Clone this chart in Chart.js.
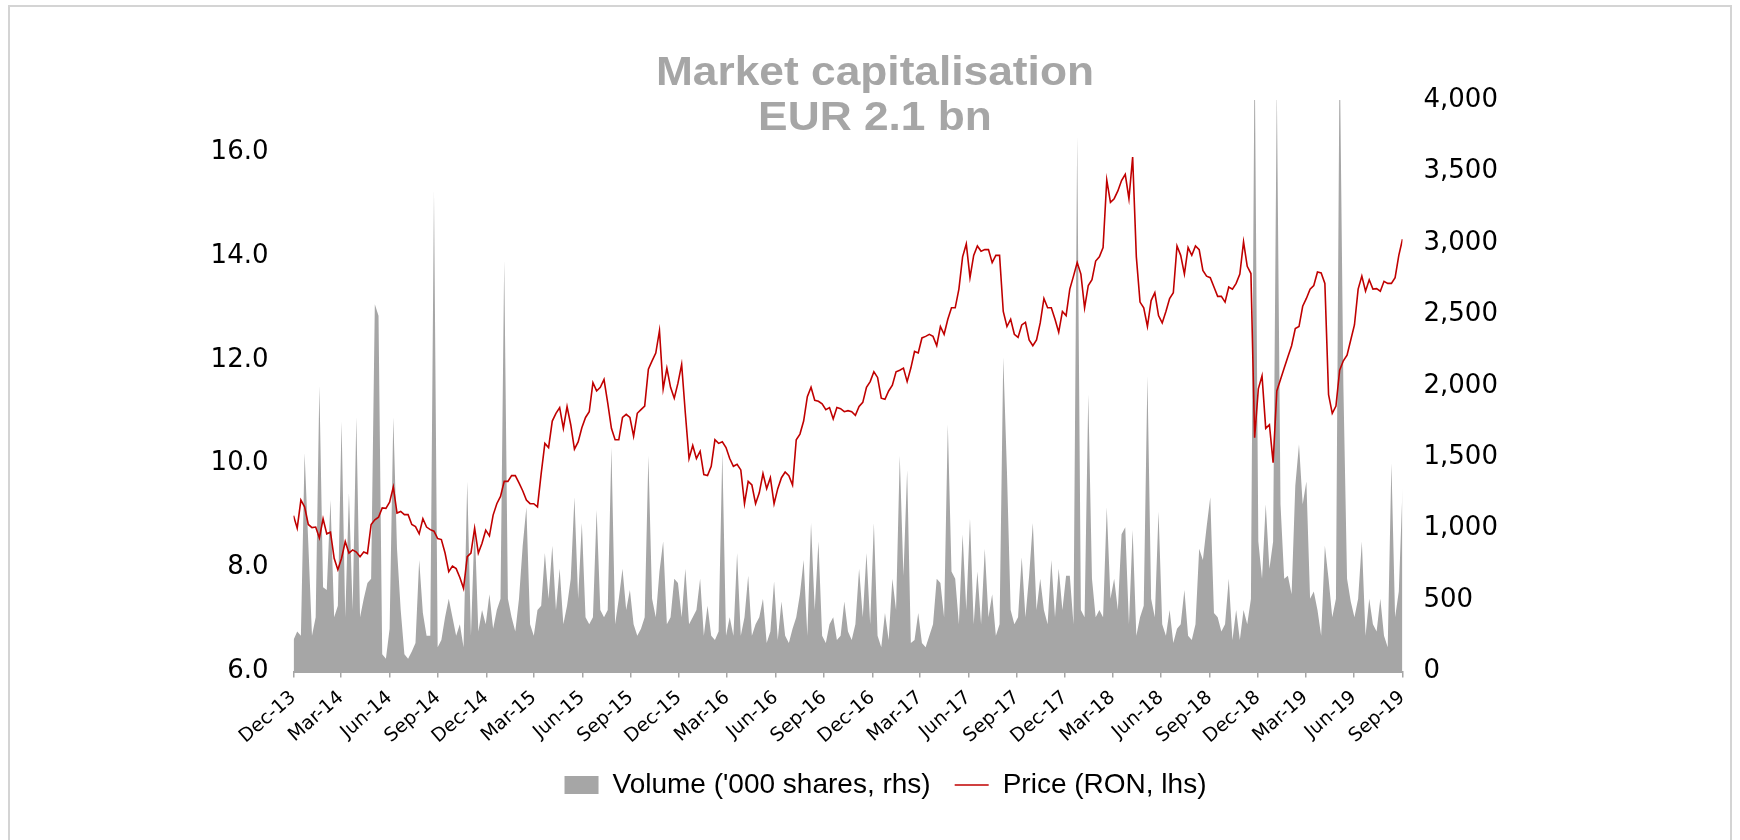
<!DOCTYPE html>
<html>
<head>
<meta charset="utf-8">
<script src="https://cdn.jsdelivr.net/npm/chart.js@4.4.1/dist/chart.umd.min.js"></script>
<style>
  html, body { margin: 0; padding: 0; background: #fff; }
  #wrap { position: relative; width: 1740px; height: 840px; overflow: hidden; }
  #frame { position: absolute; left: 8px; top: 5px; width: 1724px; height: 900px; border: 2px solid #d4d4d4; box-sizing: border-box; }
  #title { position: absolute; left: 0; top: 49px; width: 1750px; text-align: center;
           font: bold 41px "Liberation Sans", Arial, sans-serif; line-height: 45px; color: #a6a6a6;
           transform: scaleX(1.08); }
  canvas { position: absolute; left: 0; top: 0; }
</style>
</head>
<body>
<div id="wrap">
  <div id="frame"></div>
  <canvas id="mcapChart" width="1740" height="840"></canvas>
  <div id="title">Market capitalisation<br>EUR 2.1 bn</div>
</div>
<script>
// quarterly axis labels
const tickLabels = [
  "Dec-13", "Mar-14", "Jun-14", "Sep-14", "Dec-14", "Mar-15", "Jun-15", "Sep-15",
  "Dec-15", "Mar-16", "Jun-16", "Sep-16", "Dec-16", "Mar-17", "Jun-17", "Sep-17",
  "Dec-17", "Mar-18", "Jun-18", "Sep-18", "Dec-18", "Mar-19", "Jun-19", "Sep-19",
];
const priceTicks = [6, 8, 10, 12, 14, 16];
const volumeTicks = [0, 500, 1000, 1500, 2000, 2500, 3000, 3500, 4000];

// weekly readings, first week starting 1 Dec 2013
const firstDate = Date.UTC(2013, 11, 1);
const weekStep = 7;

// Price (RON, lhs)
const price = [
  9.00, 8.76, 9.30, 9.17, 8.83, 8.77, 8.78, 8.57, 8.94, 8.65,
  8.68, 8.18, 7.96, 8.18, 8.50, 8.28, 8.34, 8.30, 8.21, 8.30,
  8.27, 8.83, 8.92, 8.97, 9.15, 9.14, 9.26, 9.55, 9.05, 9.08,
  9.02, 9.02, 8.83, 8.79, 8.65, 8.94, 8.78, 8.73, 8.70, 8.56,
  8.54, 8.28, 7.92, 8.03, 7.98, 7.81, 7.60, 8.21, 8.28, 8.76,
  8.28, 8.47, 8.72, 8.61, 9.01, 9.23, 9.37, 9.66, 9.66, 9.77,
  9.77, 9.63, 9.48, 9.30, 9.23, 9.23, 9.17, 9.81, 10.39, 10.31,
  10.82, 10.97, 11.08, 10.68, 11.10, 10.75, 10.28, 10.42, 10.69, 10.89,
  11.00, 11.56, 11.40, 11.47, 11.62, 11.17, 10.68, 10.46, 10.46, 10.89,
  10.95, 10.89, 10.53, 10.97, 11.04, 11.11, 11.82, 11.98, 12.13, 12.56,
  11.44, 11.84, 11.47, 11.26, 11.55, 11.91, 10.97, 10.10, 10.35, 10.10,
  10.24, 9.79, 9.77, 9.95, 10.46, 10.39, 10.42, 10.31, 10.10, 9.95,
  9.99, 9.88, 9.23, 9.66, 9.59, 9.23, 9.44, 9.81, 9.52, 9.73,
  9.23, 9.52, 9.73, 9.84, 9.77, 9.59, 10.46, 10.57, 10.82, 11.29,
  11.47, 11.22, 11.20, 11.15, 11.04, 11.08, 10.86, 11.08, 11.06, 11.00,
  11.02, 11.00, 10.93, 11.10, 11.18, 11.47, 11.58, 11.77, 11.66, 11.26,
  11.24, 11.40, 11.51, 11.77, 11.80, 11.84, 11.58, 11.84, 12.16, 12.13,
  12.42, 12.45, 12.49, 12.45, 12.27, 12.64, 12.49, 12.78, 13.00, 13.00,
  13.36, 13.98, 14.23, 13.58, 14.01, 14.19, 14.09, 14.12, 14.12, 13.87,
  14.01, 14.01, 12.93, 12.64, 12.78, 12.49, 12.43, 12.67, 12.72, 12.38,
  12.27, 12.38, 12.71, 13.18, 13.00, 13.00, 12.78, 12.53, 12.93, 12.85,
  13.36, 13.61, 13.87, 13.65, 13.00, 13.43, 13.54, 13.90, 13.98, 14.16,
  15.46, 15.03, 15.10, 15.25, 15.45, 15.57, 15.10, 15.90, 13.98, 13.11,
  13.00, 12.64, 13.14, 13.29, 12.85, 12.71, 12.93, 13.18, 13.29, 14.19,
  14.01, 13.65, 14.16, 14.01, 14.19, 14.12, 13.72, 13.61, 13.58, 13.40,
  13.22, 13.22, 13.11, 13.40, 13.36, 13.47, 13.65, 14.27, 13.80, 13.66,
  10.50, 11.44, 11.69, 10.68, 10.75, 10.02, 11.40, 11.62, 11.84, 12.06,
  12.27, 12.60, 12.64, 13.03, 13.18, 13.36, 13.43, 13.69, 13.67, 13.47,
  11.33, 10.97, 11.11, 11.80, 11.98, 12.09, 12.38, 12.67, 13.36, 13.61,
  13.32, 13.54, 13.36, 13.37, 13.32, 13.51, 13.47, 13.47, 13.58, 14.01,
  14.32,
];

// Volume ('000 shares, rhs)
const volume = [
  220, 280, 250, 1530, 900, 250, 380, 2000, 590, 570,
  1200, 380, 460, 1750, 380, 1250, 430, 1780, 380, 510,
  620, 650, 2570, 2490, 120, 90, 300, 1780, 860, 430,
  120, 90, 140, 200, 780, 410, 250, 250, 3370, 170,
  220, 380, 510, 380, 250, 330, 170, 1330, 250, 1040,
  280, 430, 330, 540, 300, 430, 510, 2880, 510, 380,
  280, 510, 880, 1150, 330, 250, 430, 460, 830, 510,
  880, 430, 720, 330, 460, 650, 1220, 510, 1040, 380,
  330, 380, 1130, 430, 380, 430, 1570, 330, 510, 720,
  430, 570, 330, 250, 300, 380, 1510, 510, 380, 700,
  910, 330, 380, 650, 620, 380, 720, 330, 380, 430,
  650, 250, 460, 250, 220, 280, 1540, 250, 380, 250,
  830, 250, 380, 670, 250, 330, 380, 510, 200, 280,
  630, 220, 490, 250, 200, 300, 380, 540, 780, 250,
  1040, 430, 910, 250, 200, 330, 380, 220, 250, 490,
  280, 220, 330, 720, 380, 830, 330, 1040, 250, 170,
  410, 220, 650, 430, 1510, 670, 1410, 200, 220, 410,
  200, 170, 250, 330, 650, 620, 380, 1730, 700, 650,
  330, 960, 430, 1070, 330, 700, 330, 860, 380, 540,
  250, 330, 2200, 1400, 430, 330, 380, 800, 380, 670,
  1040, 430, 650, 430, 330, 780, 380, 720, 430, 670,
  670, 330, 3750, 430, 380, 1940, 650, 380, 430, 380,
  1150, 510, 650, 430, 960, 1010, 330, 990, 250, 380,
  460, 2070, 510, 380, 1120, 330, 250, 430, 200, 300,
  330, 570, 250, 220, 330, 860, 780, 1010, 1220, 410,
  380, 280, 330, 650, 220, 430, 220, 430, 330, 510,
  4400, 910, 650, 1170, 720, 910, 4100, 1170, 650, 670,
  540, 1300, 1590, 1170, 1330, 510, 560, 430, 250, 880,
  650, 380, 510, 4400, 2010, 650, 490, 380, 510, 910,
  250, 510, 330, 280, 510, 250, 170, 1460, 380, 560,
  1280,
];

const monthIndex = { Jan: 0, Feb: 1, Mar: 2, Apr: 3, May: 4, Jun: 5, Jul: 6, Aug: 7, Sep: 8, Oct: 9, Nov: 10, Dec: 11 };
const dayMs = 86400000;

// days from 1 Dec 2013 to the first of each labelled month
const tickDays = tickLabels.map(lbl => {
  const [m, y] = lbl.split("-");
  return (Date.UTC(2000 + Number(y), monthIndex[m], 1) - firstDate) / dayMs;
});

const pricePoints = price.map((v, i) => ({ x: i * weekStep, y: v }));
const volumePoints = volume.map((v, i) => ({ x: i * weekStep, y: v }));

Chart.defaults.font.family = "'DejaVu Sans', sans-serif";
Chart.defaults.color = "#000";

const padLeft = 31;

const mcapChart = new Chart(document.getElementById("mcapChart"), {
  type: "line",
  data: {
    datasets: [
      {
        label: "Volume ('000 shares, rhs)",
        data: volumePoints,
        yAxisID: "y1",
        fill: "origin",
        backgroundColor: "#a6a6a6",
        borderColor: "#a6a6a6",
        borderWidth: 0,
        pointRadius: 0,
        pointStyle: "rect",
        tension: 0,
        order: 1,
      },
      {
        label: "Price (RON, lhs)",
        data: pricePoints,
        yAxisID: "y",
        fill: false,
        borderColor: "#c00000",
        backgroundColor: "#c00000",
        borderWidth: 1.6,
        pointRadius: 0,
        pointStyle: "line",
        tension: 0,
        order: 0,
      },
    ],
  },
  options: {
    responsive: false,
    animation: false,
    devicePixelRatio: 1,
    layout: { padding: { left: padLeft, right: 0, top: 100, bottom: 31 } },
    plugins: {
      title: { display: false },
      tooltip: { enabled: false },
      legend: {
        position: "bottom",
        labels: {
          font: { family: "'Liberation Sans', Arial, sans-serif", size: 28 },
          color: "#000",
          usePointStyle: true,
          pointStyleWidth: 34,
          boxWidth: 34,
          boxHeight: 18,
          padding: 24,
          sort: (a, b) => a.datasetIndex - b.datasetIndex,
        },
      },
    },
    scales: {
      x: {
        type: "linear",
        min: 0,
        max: tickDays[tickDays.length - 1],
        afterBuildTicks: scale => { scale.ticks = tickDays.map(v => ({ value: v })); },
        afterFit: scale => { scale.height = 75.5; },
        ticks: {
          autoSkip: false,
          minRotation: 41,
          maxRotation: 41,
          padding: 9,
          font: { size: 19 },
          color: "#000",
          callback: (v, i) => tickLabels[i],
        },
        grid: { drawOnChartArea: false, drawTicks: true, tickLength: 6, color: "#a6a6a6", lineWidth: 1.5 },
        border: { display: true, color: "#a6a6a6", width: 2 },
      },
      y: {
        position: "left",
        min: 6,
        max: 17,
        afterBuildTicks: scale => { scale.ticks = priceTicks.map(v => ({ value: v })); },
        afterFit: scale => { scale.width = 293.5 - padLeft; },
        ticks: {
          padding: 25,
          font: { size: 26 },
          color: "#000",
          callback: v => v.toFixed(1),
        },
        grid: { display: false, drawTicks: false },
        border: { display: false },
      },
      y1: {
        position: "right",
        min: 0,
        max: 4000,
        afterBuildTicks: scale => { scale.ticks = volumeTicks.map(v => ({ value: v })); },
        afterFit: scale => { scale.width = 337.5; },
        ticks: {
          padding: 21,
          font: { size: 26 },
          color: "#000",
          callback: v => v.toLocaleString("en-US"),
        },
        grid: { display: false, drawTicks: false },
        border: { display: false },
      },
    },
  },
});
</script>
</body>
</html>
